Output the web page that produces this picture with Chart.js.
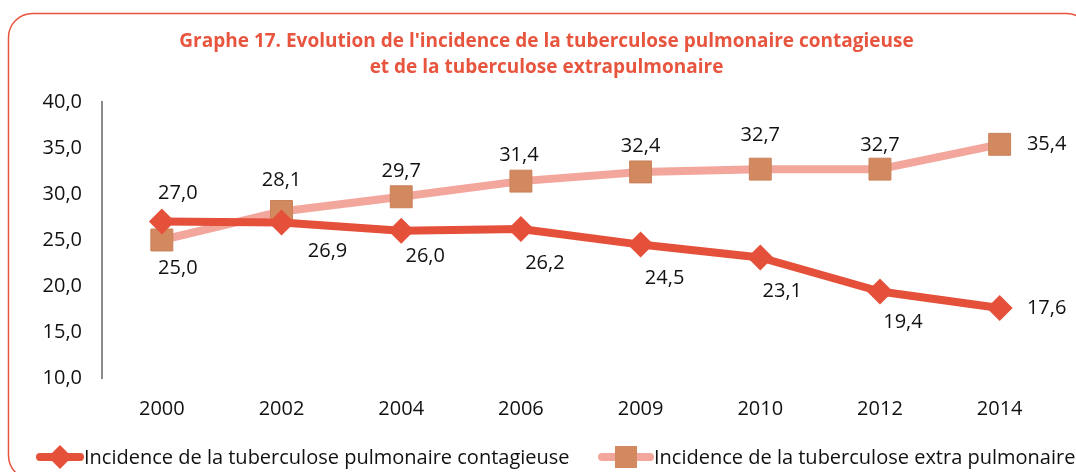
<!DOCTYPE html>
<html>
<head>
<meta charset="utf-8">
<script src="https://cdn.jsdelivr.net/npm/chart.js@4.4.1/dist/chart.umd.min.js"></script>
<style>
html,body{margin:0;padding:0;background:#fff;}
canvas{display:block;}
</style>
</head>
<body>
<canvas id="c" width="1076" height="472"></canvas>
<script>
const categories = ['2000','2002','2004','2006','2009','2010','2012','2014'];
const contagieuse = [27.0, 26.9, 26.0, 26.2, 24.5, 23.1, 19.4, 17.6];
const extraPulmonaire = [25.0, 28.1, 29.7, 31.4, 32.4, 32.7, 32.7, 35.4];
const yTicks = [10, 15, 20, 25, 30, 35, 40];
const titleLines = ["Graphe 17. Evolution de l'incidence de la tuberculose pulmonaire contagieuse", "et de la tuberculose extrapulmonaire"];
const seriesNames = ['Incidence de la tuberculose pulmonaire contagieuse', 'Incidence de la tuberculose extra pulmonaire'];

const FONT = 'Open Sans';
const RED = '#e5503a';
const PINK = '#f2a69c';
const SQ = '#d2895f';

const fmt = v => v.toFixed(1).replace('.', ',');

const framePlugin = {
  id: 'frame',
  beforeDraw(chart) {
    const ctx = chart.ctx;
    ctx.save();
    ctx.fillStyle = '#fff';
    ctx.fillRect(0, 0, chart.width, chart.height);
    ctx.strokeStyle = '#e8553f';
    ctx.lineWidth = 1.5;
    ctx.beginPath();
    ctx.roundRect(8.5, 13.5, 1082, 466, 24);
    ctx.stroke();
    ctx.restore();
  }
};

const labelPlugin = {
  id: 'valueLabels',
  afterDatasetsDraw(chart, args, opts) {
    const ctx = chart.ctx;
    ctx.save();
    ctx.font = opts.font;
    ctx.fillStyle = opts.color;
    ctx.textAlign = 'center';
    ctx.textBaseline = 'middle';
    chart.data.datasets.forEach((ds, di) => {
      const meta = chart.getDatasetMeta(di);
      const offs = opts.offsets[di];
      meta.data.forEach((pt, i) => {
        const o = offs[i];
        ctx.fillText(fmt(ds.data[i]), pt.x + o[0], pt.y + o[1]);
      });
    });
    ctx.restore();
  }
};

const legendPlugin = {
  id: 'customLegend',
  afterDraw(chart, args, opts) {
    const ctx = chart.ctx;
    ctx.save();
    const y = opts.y;
    opts.items.forEach((it, k) => {
      const ds = chart.data.datasets[k];
      ctx.strokeStyle = ds.borderColor;
      ctx.lineWidth = 8;
      ctx.lineCap = 'round';
      ctx.beginPath();
      ctx.moveTo(it.x0, y);
      ctx.lineTo(it.x1, y);
      ctx.stroke();
      const cx = (it.x0 + it.x1) / 2;
      ctx.fillStyle = ds.pointBackgroundColor;
      ctx.beginPath();
      if (ds.pointStyle === 'rectRot') {
        const r = 12;
        ctx.moveTo(cx, y - r); ctx.lineTo(cx + r, y); ctx.lineTo(cx, y + r); ctx.lineTo(cx - r, y); ctx.closePath();
      } else {
        ctx.rect(cx - 11, y - 11, 22, 22);
      }
      ctx.fill();
      ctx.fillStyle = '#111';
      ctx.font = opts.font;
      ctx.textAlign = 'left';
      ctx.textBaseline = 'middle';
      ctx.fillText(ds.label, it.tx, y + 1);
    });
    ctx.restore();
  }
};

new Chart(document.getElementById('c'), {
  type: 'line',
  data: {
    labels: categories,
    datasets: [
      {
        label: seriesNames[0],
        data: contagieuse,
        borderColor: RED,
        borderWidth: 8,
        pointStyle: 'rectRot',
        pointRadius: 13,
        pointBackgroundColor: RED,
        pointBorderColor: RED,
        pointBorderWidth: 0,
        borderJoinStyle: 'round',
        tension: 0,
        order: 1
      },
      {
        label: seriesNames[1],
        data: extraPulmonaire,
        borderColor: PINK,
        borderWidth: 8,
        pointStyle: 'rect',
        pointRadius: 15.5,
        pointBackgroundColor: SQ,
        pointBorderColor: '#c98059',
        pointBorderWidth: 1,
        borderJoinStyle: 'round',
        tension: 0,
        order: 2
      }
    ]
  },
  options: {
    responsive: false,
    animation: false,
    layout: { padding: { left: 31, right: 14, top: 0, bottom: 0 } },
    scales: {
      x: {
        offset: true,
        grid: { display: false, drawTicks: false, offset: true },
        border: { display: false },
        ticks: { color: '#111', font: { family: FONT, size: 20 }, padding: 19 },
        afterFit(s) { s.height = 94; }
      },
      y: {
        min: 10, max: 40,
        afterBuildTicks(s) { s.ticks = yTicks.map(v => ({ value: v })); },
        grid: { display: false, drawTicks: false },
        border: { display: true, color: '#8c8c8c', width: 2 },
        ticks: { color: '#111', font: { family: FONT, size: 20 }, padding: 20, callback: v => fmt(v) },
        afterFit(s) { s.width = 71; }
      }
    },
    plugins: {
      legend: { display: false },
      tooltip: { enabled: false },
      title: {
        display: true,
        text: titleLines,
        color: '#e8553f',
        font: { family: FONT, size: 19, weight: 'bold', lineHeight: 1.35 },
        padding: { top: 29, bottom: 21.7 }
      },
      valueLabels: {
        font: '20px ' + FONT,
        color: '#111',
        offsets: [
          [[16,-28],[46,29],[24,25],[24,34],[24,34],[22,34],[23,31],[47,0]],
          [[16,28],[0,-31],[0,-25],[-2,-26],[0,-26],[0,-34],[0,-24],[47,0]]
        ]
      },
      customLegend: {
        y: 457,
        font: '20px ' + FONT,
        items: [
          { x0: 40, x1: 80, tx: 84 },
          { x0: 602, x1: 650, tx: 654 }
        ]
      }
    }
  },
  plugins: [framePlugin, labelPlugin, legendPlugin]
});
</script>
</body>
</html>
